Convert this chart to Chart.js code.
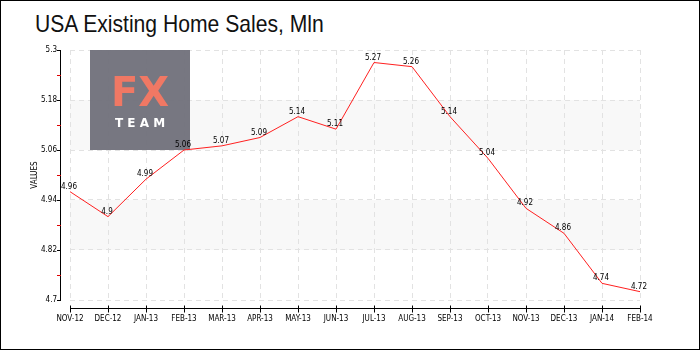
<!DOCTYPE html>
<html>
<head>
<meta charset="utf-8">
<script src="https://cdn.jsdelivr.net/npm/chart.js@4"></script>
<style>
  html, body { margin: 0; padding: 0; background: #fff; }
  #wrap { position: relative; width: 698px; height: 348px; border: 1px solid #000; overflow: hidden; }
  #title { position: absolute; left: 34px; top: 9px; font-family: "Liberation Sans Narrow", "Liberation Sans", sans-serif;
           font-size: 24px; color: #111; white-space: nowrap; transform-origin: 0 0; transform: scaleX(0.88); }
  canvas { position: absolute; left: -1px; top: -1px; }
</style>
</head>
<body>
<div id="wrap">
  <div id="title">USA Existing Home Sales, Mln</div>
  <canvas id="chart" width="700" height="350"></canvas>
</div>
<script>
// données
const mois = ['Nov-12', 'Dec-12', 'Jan-13', 'Feb-13', 'Mar-13', 'Apr-13', 'May-13', 'Jun-13',
              'Jul-13', 'Aug-13', 'Sep-13', 'Oct-13', 'Nov-13', 'Dec-13', 'Jan-14', 'Feb-14'];
const ventes = [4.96, 4.9, 4.99, 5.06, 5.07, 5.09, 5.14, 5.11, 5.27, 5.26, 5.14, 5.04, 4.92, 4.86, 4.74, 4.72];
const yMin = 4.7, yMax = 5.3, yPas = 0.06;
const bandes = [[5.06, 5.18], [4.82, 4.94]];

const fontTicks = { family: 'DejaVu Sans Condensed', size: 8 };

// bandes grises, axes et logo
const decorPlugin = {
    id: 'decor',
    beforeDraw(chart) {
        const ctx = chart.ctx, a = chart.chartArea, y = chart.scales.y;
        ctx.save();
        ctx.fillStyle = '#f8f8f8';
        bandes.forEach(b => {
            const y1 = y.getPixelForValue(b[1]), y2 = y.getPixelForValue(b[0]);
            ctx.fillRect(a.left, y1, a.right - a.left, y2 - y1);
        });
        ctx.restore();
    },
    beforeDatasetsDraw(chart) {
        const ctx = chart.ctx;
        ctx.save();
        // logo FX TEAM
        ctx.fillStyle = 'rgba(112,112,122,0.95)';
        ctx.fillRect(90, 50, 100, 100);
        ctx.fillStyle = '#f07864';
        ctx.font = 'bold 40px "DejaVu Sans"';
        ctx.textAlign = 'center';
        ctx.textBaseline = 'alphabetic';
        ctx.fillText('FX', 140, 106);
        ctx.fillStyle = '#fff';
        ctx.font = 'bold 12px "DejaVu Sans"';
        ctx.fillText('T E A M', 140, 127);
        ctx.restore();
    },
    afterDraw(chart) {
        const ctx = chart.ctx, a = chart.chartArea, y = chart.scales.y, x = chart.scales.x;
        ctx.save();
        ctx.lineWidth = 1;
        // axe Y
        ctx.strokeStyle = '#000';
        ctx.beginPath();
        ctx.moveTo(60.5, a.top);
        ctx.lineTo(60.5, a.bottom);
        ctx.stroke();
        y.ticks.forEach((t, i) => {
            const py = Math.round(y.getPixelForValue(t.value)) + 0.5;
            ctx.strokeStyle = i % 2 === 0 ? '#000' : '#e00000';
            ctx.beginPath();
            ctx.moveTo(57, py);
            ctx.lineTo(61, py);
            ctx.stroke();
        });
        // axe X
        const yAxe = a.bottom + 8.5;
        ctx.strokeStyle = '#000';
        ctx.beginPath();
        ctx.moveTo(a.left, yAxe);
        ctx.lineTo(a.right, yAxe);
        ctx.stroke();
        mois.forEach((m, i) => {
            const px = Math.round(x.getPixelForValue(i)) + 0.5;
            ctx.beginPath();
            ctx.moveTo(px, yAxe - 3);
            ctx.lineTo(px, yAxe + 4);
            ctx.stroke();
        });
        ctx.restore();
    },
    afterDatasetsDraw(chart) {
        const ctx = chart.ctx, meta = chart.getDatasetMeta(0);
        ctx.save();
        ctx.fillStyle = '#000';
        ctx.font = '8px "DejaVu Sans Condensed"';
        ctx.textAlign = 'center';
        ctx.textBaseline = 'bottom';
        meta.data.forEach((p, i) => {
            ctx.fillText(String(ventes[i]), p.x - 1, p.y - 1);
        });
        ctx.restore();
    }
};

new Chart(document.getElementById('chart'), {
    type: 'line',
    data: {
        labels: mois,
        datasets: [{
            data: ventes,
            borderColor: '#ff2020',
            borderWidth: 1,
            pointRadius: 0,
            tension: 0,
            fill: false
        }]
    },
    options: {
        responsive: false,
        animation: false,
        layout: { padding: { top: 50, left: 0, right: 60, bottom: 0 } },
        plugins: { legend: { display: false }, tooltip: { enabled: false } },
        scales: {
            x: {
                offset: false,
                afterFit: s => { s.height = 50; },
                border: { display: false, dash: [5, 4] },
                grid: { color: '#e2e2e2', drawTicks: false },
                ticks: {
                    font: fontTicks, color: '#000', padding: 14, maxRotation: 0, autoSkip: false,
                    callback: (v, i) => mois[i].toUpperCase()
                }
            },
            y: {
                min: yMin, max: yMax,
                afterFit: s => { s.width = 70; },
                afterBuildTicks: s => {
                    const t = [];
                    for (let v = yMin; v <= yMax + 1e-9; v += yPas) t.push({ value: +v.toFixed(2) });
                    s.ticks = t;
                },
                border: { display: false, dash: [5, 4] },
                grid: {
                    drawTicks: false,
                    color: c => c.index % 2 === 0 ? '#e2e2e2' : 'rgba(0,0,0,0)'
                },
                ticks: {
                    font: fontTicks, color: '#000', padding: 13,
                    callback: (v, i) => i % 2 === 0 ? String(+v.toFixed(2)) : ''
                },
                title: { display: true, text: 'VALUES', font: fontTicks, color: '#000', padding: { top: 30 } }
            }
        }
    },
    plugins: [decorPlugin]
});
</script>
</body>
</html>
